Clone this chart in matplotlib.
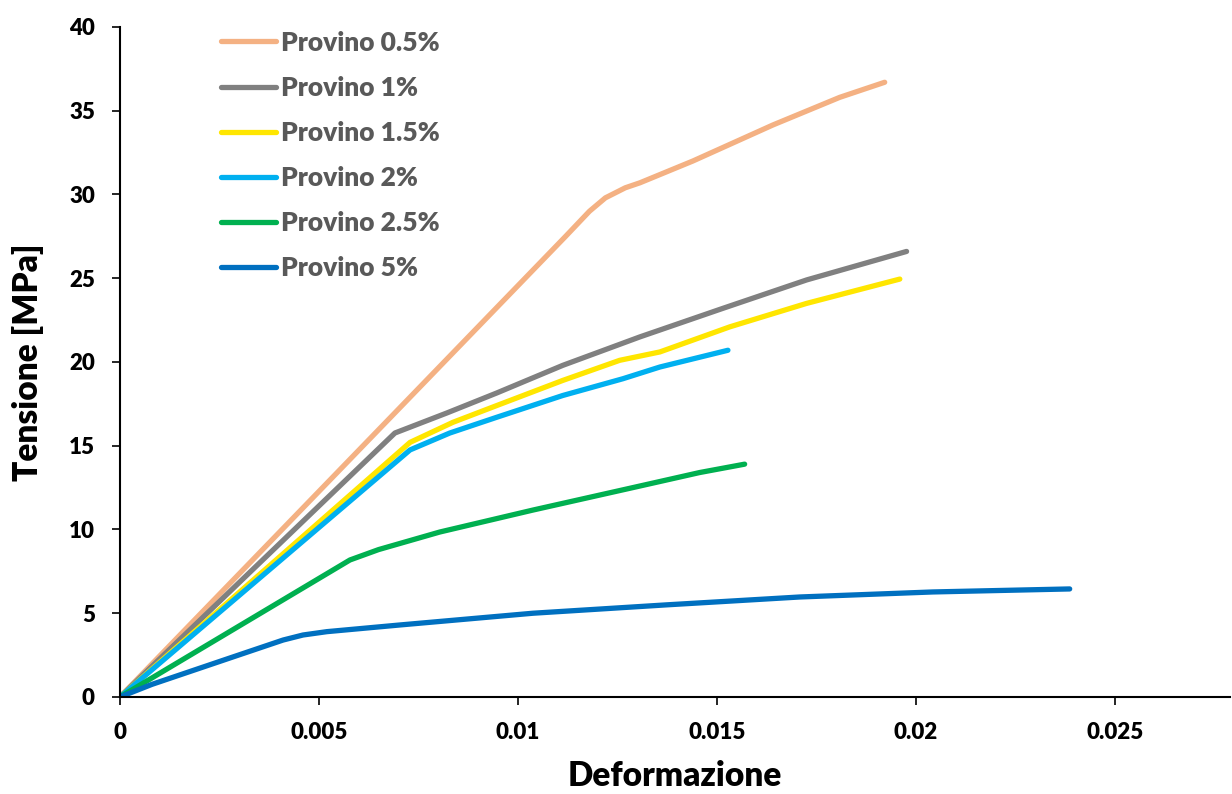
import matplotlib.pyplot as plt

plt.rcParams['font.family'] = ['Lato', 'DejaVu Sans']

# data (strain, stress in MPa)
eps_05 = [0, 0.00528, 0.0112, 0.0118, 0.0122, 0.0127, 0.01307, 0.0144, 0.01641, 0.01809, 0.01922]
sig_05 = [0, 12.96, 27.5, 29.0, 29.8, 30.4, 30.7, 32.0, 34.15, 35.8, 36.7]

eps_1 = [0, 0.00691, 0.00822, 0.00947, 0.01113, 0.01307, 0.01515, 0.01726, 0.01977]
sig_1 = [0, 15.76, 16.96, 18.15, 19.8, 21.5, 23.2, 24.9, 26.6]

eps_15 = [0, 0.00729, 0.00837, 0.00947, 0.01113, 0.01256, 0.01357, 0.01533, 0.01726, 0.0196]
sig_15 = [0, 15.2, 16.4, 17.4, 18.9, 20.1, 20.6, 22.1, 23.5, 24.95]

eps_2 = [0, 0.00729, 0.00829, 0.00947, 0.01113, 0.01264, 0.01357, 0.01528]
sig_2 = [0, 14.75, 15.76, 16.7, 18.0, 19.0, 19.7, 20.7]

eps_25 = [0, 0.00578, 0.0065, 0.00804, 0.01038, 0.01289, 0.01457, 0.0157]
sig_25 = [0, 8.18, 8.8, 9.85, 11.16, 12.5, 13.4, 13.9]

eps_5 = [0, 0.0008, 0.00284, 0.0041, 0.0046, 0.0052, 0.00704, 0.01038, 0.01374, 0.01709, 0.02043, 0.02387]
sig_5 = [0, 0.75, 2.39, 3.4, 3.7, 3.9, 4.3, 5.0, 5.5, 5.97, 6.27, 6.45]

labels = ['Provino 0.5%', 'Provino 1%', 'Provino 1.5%', 'Provino 2%', 'Provino 2.5%', 'Provino 5%']
colors = ['#F4B183', '#808080', '#FFE600', '#00B0F0', '#00B050', '#0070C0']
series = [(eps_05, sig_05), (eps_1, sig_1), (eps_15, sig_15),
          (eps_2, sig_2), (eps_25, sig_25), (eps_5, sig_5)]

fig = plt.figure(figsize=(12.32, 7.94), dpi=100)
ax = fig.add_axes([0.0974, 0.1222, 0.901, 0.8438])

for (x, y), lab, c in zip(series, labels, colors):
    ax.plot(x, y, color=c, lw=3.8, label=lab, solid_capstyle='round', solid_joinstyle='round')

ax.set_xlim(0, 0.0279)
ax.set_ylim(0, 40)
ax.set_xticks([0, 0.005, 0.01, 0.015, 0.02, 0.025])
ax.set_xticklabels(['0', '0.005', '0.01', '0.015', '0.02', '0.025'])
ax.set_yticks(range(0, 41, 5))

for s in ['top', 'right']:
    ax.spines[s].set_visible(False)
for s in ['left', 'bottom']:
    ax.spines[s].set_linewidth(1.5)

ax.tick_params(labelsize=16, width=1.2, length=6, pad=12)
for t in ax.get_xticklabels() + ax.get_yticklabels():
    t.set_fontweight('heavy')

ax.set_xlabel('Deformazione', fontsize=24, fontweight='heavy', labelpad=12)
ax.set_ylabel('Tensione [MPa]', fontsize=24, fontweight='heavy', labelpad=18)

leg = ax.legend(loc='upper left', bbox_to_anchor=(0.07, 1.03), frameon=False,
                fontsize=19, handlelength=2.05, handletextpad=0.2, labelspacing=0.8,
                labelcolor='#595959')
for t in leg.get_texts():
    t.set_fontweight('heavy')

fig.savefig('out.png', dpi=100)
